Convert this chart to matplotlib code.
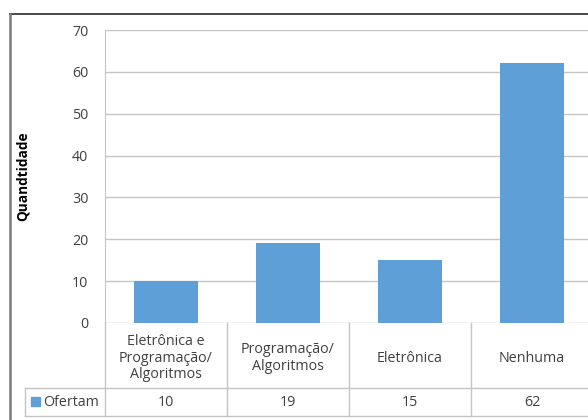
import numpy as np
import matplotlib.pyplot as plt
from matplotlib.lines import Line2D
from matplotlib.patches import Rectangle

plt.rcParams['font.family'] = ['Open Sans', 'DejaVu Sans']

categorias = ['Eletrônica e\nProgramação/\nAlgoritmos', 'Programação/\nAlgoritmos', 'Eletrônica', 'Nenhuma']
ofertam = [10, 19, 15, 62]
serie = 'Ofertam'
yticks = [0, 10, 20, 30, 40, 50, 60, 70]

cor_barra = '#5f9fd8'
cor_grade = '#c4c4c4'
cor_texto = '#404040'
fs = 10.3

W, H = 588, 420
fig = plt.figure(figsize=(W / 100, H / 100), dpi=100)

# area do grafico (em pixels da figura), passa um pouco da borda direita
x0, x1, ytop, y0 = 105, 593, 30, 323
ax = fig.add_axes([x0 / W, 1 - y0 / H, (x1 - x0) / W, (y0 - ytop) / H])

x = np.arange(len(categorias))
ax.bar(x, ofertam, width=0.52, color=cor_barra, zorder=3)
ax.set_xlim(-0.5, len(categorias) - 0.5)
ax.set_ylim(0, 70)
ax.set_yticks(yticks)
ax.yaxis.grid(True, color=cor_grade, linewidth=1.0, zorder=0)
ax.set_xticks([])
ax.tick_params(axis='y', length=0, pad=12, labelsize=fs, labelcolor=cor_texto)
for s in ['top', 'right', 'bottom']:
    ax.spines[s].set_visible(False)
ax.spines['left'].set_color(cor_grade)

ax.set_ylabel('Quandtidade', fontsize=9.8, fontweight='bold', color='black')
ax.yaxis.set_label_coords(-75 / (x1 - x0), 0.5)

# tabela de dados abaixo do eixo
alt = y0 - ytop
def ya(py):
    return -(py - y0) / alt

trans = ax.get_xaxis_transform()
linha_meio = ya(388)
linha_fim = ya(416)
for b in np.arange(len(categorias) + 1) - 0.5:
    ax.add_line(Line2D([b, b], [0, linha_fim], transform=trans, color=cor_grade,
                       linewidth=1.0, clip_on=False))
xesq = -0.5 - (x0 - 25) / ((x1 - x0) / len(categorias))
for yy in [linha_meio, linha_fim]:
    ax.add_line(Line2D([xesq, len(categorias)], [yy, yy], transform=trans, color=cor_grade,
                       linewidth=1.0, clip_on=False))
ax.add_line(Line2D([xesq, xesq], [linha_meio, linha_fim], transform=trans, color=cor_grade,
                   linewidth=1.0, clip_on=False))

for i, (cat, v) in enumerate(zip(categorias, ofertam)):
    ax.text(i, ya(358), cat, transform=trans, ha='center', va='center', fontsize=fs,
            color=cor_texto, linespacing=1.1, clip_on=False)
    ax.text(i, ya(402), str(v), transform=trans, ha='center', va='center', fontsize=fs,
            color=cor_texto, clip_on=False)

# legenda na primeira coluna da tabela
fig.patches.append(Rectangle((31 / W, 1 - 406 / H), 9 / W, 9 / H, transform=fig.transFigure,
                             color=cor_barra))
fig.text(43 / W, 1 - 402 / H, serie, ha='left', va='center', fontsize=fs, color=cor_texto)

# borda externa do grafico
fig.add_artist(Line2D([10 / W, 1], [1 - 14 / H, 1 - 14 / H], transform=fig.transFigure,
                      color='#3a3a3a', linewidth=1.3))
fig.add_artist(Line2D([10 / W, 10 / W], [1 - 14 / H, 0], transform=fig.transFigure,
                      color='#7a7a7a', linewidth=1.8))

fig.savefig('out.png', dpi=100)
